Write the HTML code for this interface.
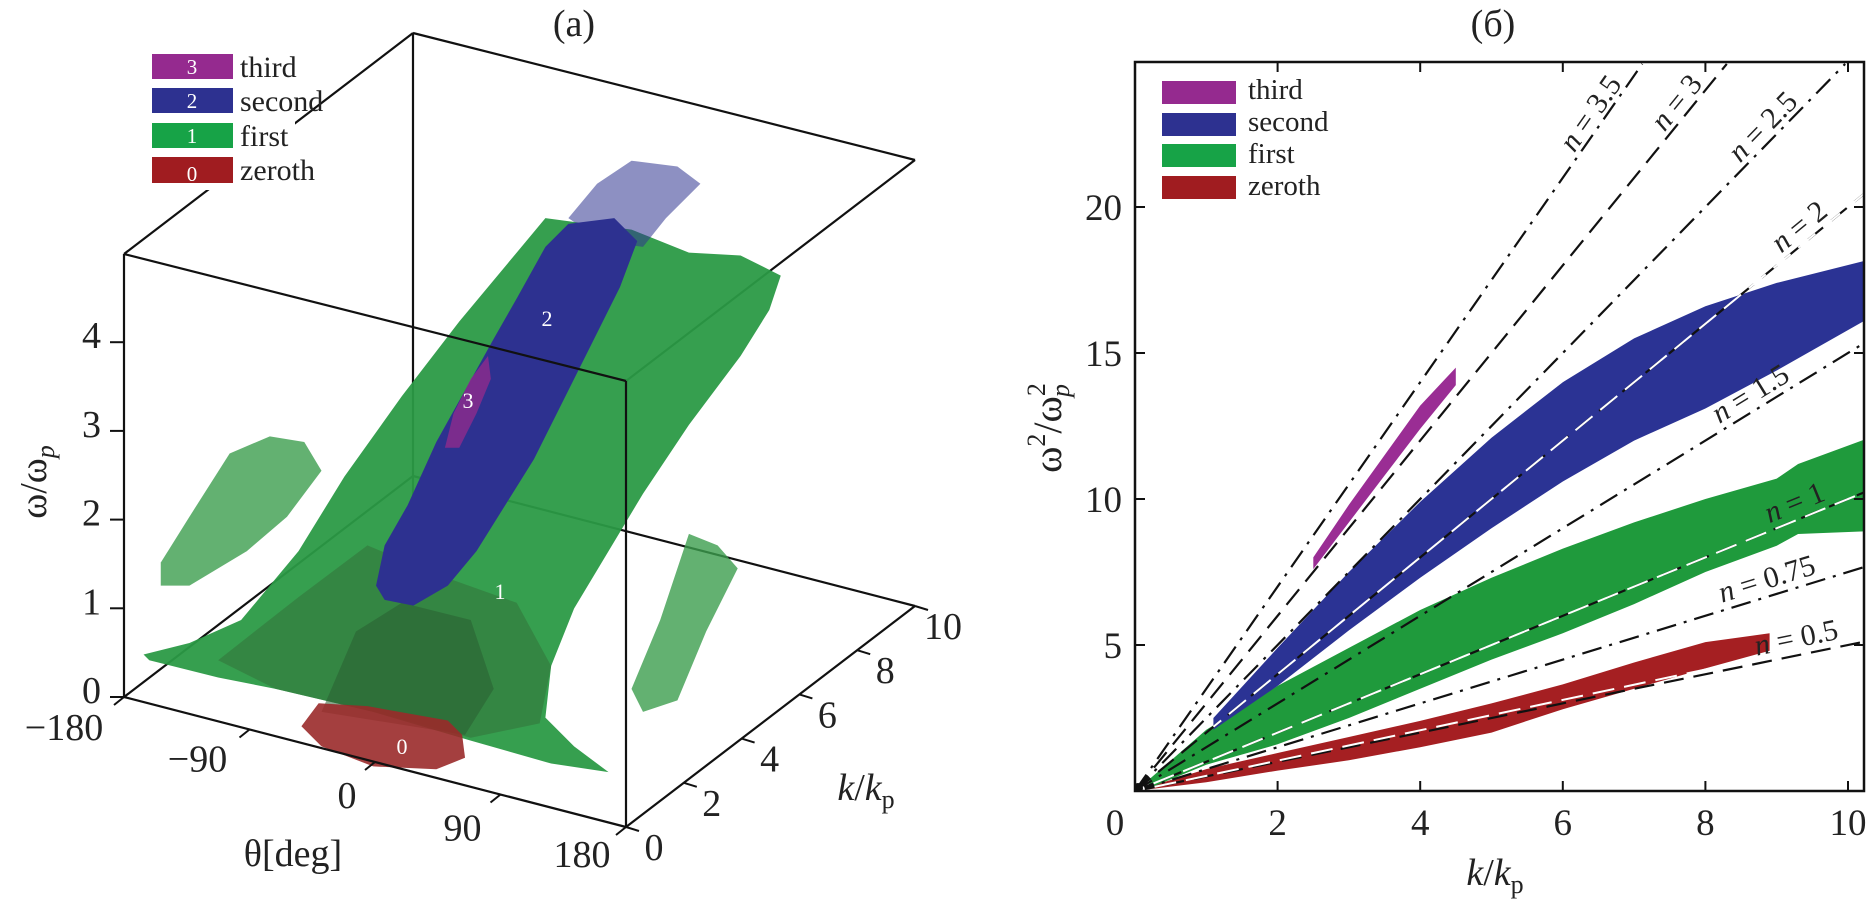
<!DOCTYPE html>
<html><head><meta charset="utf-8">
<style>
html,body{margin:0;padding:0;background:#fff;}
svg{display:block;font-family:"Liberation Serif",serif;}
</style></head>
<body>
<svg id="fig" width="1870" height="899" viewBox="0 0 1870 899" xmlns="http://www.w3.org/2000/svg">
<defs>
<clipPath id="plotClip"><rect x="1135" y="62" width="729" height="729"/></clipPath>
</defs>

<!-- ===================== LEFT PANEL (a) ===================== -->
<g id="panelA">
<text x="574" y="36" font-size="38" text-anchor="middle" fill="#222">(a)</text>

<g stroke="#111" stroke-width="2.2" fill="none">
<line x1="413" y1="33" x2="915" y2="160"/>
<line x1="413" y1="33" x2="413" y2="520"/>
<line x1="124" y1="254" x2="413" y2="33"/>
<line x1="626" y1="381" x2="915" y2="160"/>
<line x1="413" y1="476" x2="915" y2="606"/>
<line x1="124" y1="697" x2="413" y2="476"/>
</g>

<g transform="scale(0.5741)">
<polygon fill="#2b9a46" opacity="0.95" points="250,1140 330,1120 420,1080 520,960 600,830 700,690 800,560 900,440 950,380 1100,400 1200,440 1290,445 1360,480 1340,540 1290,620 1200,740 1120,860 1060,960 1000,1060 960,1160 950,1250 1000,1300 1060,1345 960,1330 820,1290 650,1240 480,1200 380,1180 260,1150"/>
<polygon fill="#33763c" opacity="0.6" points="380,1150 520,1040 640,950 760,1000 900,1050 960,1160 940,1260 820,1285 650,1240 480,1200"/>
<polygon fill="#2a5e31" opacity="0.55" points="560,1240 620,1100 700,1050 820,1080 860,1200 810,1280"/>
<polygon fill="#3c9d4e" opacity="0.8" points="280,980 330,900 400,790 470,760 530,770 560,820 500,900 430,960 330,1020 280,1020"/>
<polygon fill="#3c9d4e" opacity="0.8" points="1100,1200 1150,1080 1200,930 1250,950 1285,990 1230,1100 1180,1220 1120,1240"/>
<polygon fill="#2f348f" opacity="0.55" points="990,380 1040,320 1100,280 1180,290 1220,320 1160,380 1120,430 1050,420"/>
<polygon fill="#2d3190" points="655,1020 670,950 710,880 760,770 810,680 860,590 900,520 950,430 990,390 1070,380 1110,420 1080,500 1030,600 980,700 930,800 880,880 830,960 780,1020 720,1055 670,1045"/>
<polygon fill="#8e2c8c" opacity="0.8" points="775,780 790,720 820,660 850,620 855,660 830,720 800,780"/>
<polygon fill="#9a2a2a" opacity="0.9" points="525,1265 555,1225 640,1230 780,1255 805,1280 810,1320 760,1340 650,1335 560,1300"/>
</g>
<g fill="#fff" font-size="22" text-anchor="middle">
<text x="547" y="326">2</text>
<text x="468" y="408">3</text>
<text x="500" y="599">1</text>
<text x="402" y="754">0</text>
</g>

<g stroke="#111" stroke-width="2.2" fill="none">
<line x1="124" y1="254" x2="626" y2="381"/>
<line x1="124" y1="254" x2="124" y2="697"/>
<line x1="626" y1="381" x2="626" y2="827"/>
<line x1="124" y1="697" x2="626" y2="827"/>
<line x1="626" y1="827" x2="915" y2="606"/>
</g>
<g id="axesA"></g>

<g>
<rect x="145" y="48" width="150" height="142" fill="#fff"/>
<rect x="152" y="54" width="81" height="25" fill="#952a8f"/>
<rect x="152" y="88" width="81" height="25" fill="#2d3190"/>
<rect x="152" y="123" width="81" height="25" fill="#17a347"/>
<rect x="152" y="157" width="81" height="26" fill="#a01c20"/>
<g fill="#fff" font-size="21" text-anchor="middle">
<text x="192" y="74">3</text>
<text x="192" y="108">2</text>
<text x="192" y="143">1</text>
<text x="192" y="181">0</text>
</g>
<g fill="#222" font-size="30">
<text x="240" y="77">third</text>
<text x="240" y="111">second</text>
<text x="240" y="146">first</text>
<text x="240" y="180">zeroth</text>
</g>
</g>
</g>

<!-- ===================== RIGHT PANEL (б) ===================== -->
<g id="panelB">
<text x="1493" y="36" font-size="38" text-anchor="middle" fill="#222">(б)</text>
<g id="bandsB" clip-path="url(#plotClip)"></g>
<g id="linesB" clip-path="url(#plotClip)"></g>
<g id="axesB"></g>
<g>
<rect x="1162" y="81" width="74" height="23" fill="#952a8f"/>
<rect x="1162" y="113" width="74" height="23" fill="#2d3190"/>
<rect x="1162" y="144" width="74" height="23" fill="#17a347"/>
<rect x="1162" y="176" width="74" height="23" fill="#a01c20"/>
<g fill="#222" font-size="29">
<text x="1248" y="99">third</text>
<text x="1248" y="131">second</text>
<text x="1248" y="163">first</text>
<text x="1248" y="195">zeroth</text>
</g>
</g>
</g>
</svg>

<script>
// ---------- Panel (b) data ----------
const xTicks = [0, 2, 4, 6, 8, 10];
const yTicks = [5, 10, 15, 20];
const zerothK  = [0, 1, 2, 3, 4, 5, 6, 7, 8, 8.9];
const zerothHi = [0, 0.75, 1.3, 1.85, 2.4, 3.0, 3.65, 4.4, 5.1, 5.4];
const zerothLo = [0, 0.3, 0.7, 1.05, 1.5, 2.0, 2.8, 3.5, 4.2, 4.8];
const firstK  = [0.2, 1, 2, 3, 4, 5, 6, 7, 8, 9, 9.3, 10.3];
const firstHi = [0.4, 2.1, 3.6, 4.9, 6.2, 7.3, 8.3, 9.2, 10.0, 10.7, 11.2, 12.1];
const firstLo = [0.1, 0.9, 1.6, 2.5, 3.5, 4.5, 5.4, 6.4, 7.5, 8.4, 8.8, 8.9];
const secondK  = [1.1, 2, 3, 4, 5, 6, 7, 8, 9, 10.3];
const secondHi = [2.5, 4.9, 7.5, 9.9, 12.1, 14.0, 15.5, 16.6, 17.4, 18.2];
const secondLo = [2.1, 3.6, 5.5, 7.3, 9.0, 10.6, 12.0, 13.1, 14.4, 16.2];
const thirdK  = [2.5, 3, 3.5, 4, 4.5];
const thirdHi = [8.0, 9.8, 11.5, 13.2, 14.5];
const thirdLo = [7.6, 9.2, 10.8, 12.4, 13.9];
const lineN     = [0.5, 0.75, 1, 1.5, 2, 2.5, 3, 3.5];
const lineStyle = ["dash", "dashdot", "dash", "dashdot", "dash", "dashdot", "dash", "dashdot"];
const labelK    = [9.3, 8.9, 9.3, 8.7, 9.4, 8.9, 7.7, 6.5];
const fitN = [0.52, 1.0, 2.0];
const fitStart = [0, 0, 1.1];
const fitEnd = [9.0, 10.3, 10.3];

const X0 = 1135, XS = 71.3, Y0 = 791, YS = 29.2;
function sx(k) { return X0 + k * XS; }
function sy(v) { return Y0 - v * YS; }
const NS = "http://www.w3.org/2000/svg";
function mk(tag, attrs, parent) {
  const e = document.createElementNS(NS, tag);
  for (const a in attrs) e.setAttribute(a, attrs[a]);
  parent.appendChild(e);
  return e;
}

const bands = document.getElementById("bandsB");
function band(ks, hi, lo, color, name) {
  let pts = [];
  for (let i = 0; i < ks.length; i++) pts.push(sx(ks[i]).toFixed(1) + "," + sy(hi[i]).toFixed(1));
  for (let i = ks.length - 1; i >= 0; i--) pts.push(sx(ks[i]).toFixed(1) + "," + sy(lo[i]).toFixed(1));
  const p = mk("polygon", { points: pts.join(" "), fill: color }, bands);
  
  
}
band(zerothK, zerothHi, zerothLo, "#a51f22", "zeroth-band");
band(firstK, firstHi, firstLo, "#1f9a3c", "first-band");
band(secondK, secondHi, secondLo, "#2b3394", "second-band");
band(thirdK, thirdHi, thirdLo, "#9a2d94", "third-band");

const lines = document.getElementById("linesB");
const kMax = 10.3;
for (let i = 0; i < lineN.length; i++) {
  const n = lineN[i];
  const kEnd = Math.min(kMax, 24.9 / n);
  const l = mk("line", { x1: sx(0), y1: sy(0), x2: sx(kEnd), y2: sy(n * kEnd), stroke: "#111", "stroke-width": 2.2,
    "stroke-dasharray": lineStyle[i] === "dash" ? "20,10" : "20,8,3,8" }, lines);
  
  
  const lk = Math.min(labelK[i], 24.0 / n);
  const ang = -Math.atan(n * YS / XS) * 180 / Math.PI;
  const tx = sx(lk), ty = sy(n * lk) - 8;
  const t = mk("text", { x: tx, y: ty, "font-size": 30, fill: "#222", "text-anchor": "middle",
    transform: "rotate(" + ang.toFixed(1) + " " + tx.toFixed(1) + " " + ty.toFixed(1) + ")" }, lines);
  
  
  t.innerHTML = '<tspan font-style="italic">n</tspan> = ' + n;
}
for (let i = 0; i < fitN.length; i++) {
  const f = mk("line", { x1: sx(fitStart[i]), y1: sy(fitN[i] * fitStart[i]), x2: sx(fitEnd[i]), y2: sy(fitN[i] * fitEnd[i]),
    stroke: "#fff", "stroke-width": 2, "stroke-dasharray": "22,10", "stroke-dashoffset": 12 }, lines);
  
  
}
const om = mk("circle", { cx: sx(0) + 3, cy: sy(0) - 3, r: 5, fill: "#111" }, lines);



const axB = document.getElementById("axesB");
const fr = mk("rect", { x: 1135, y: 62, width: 729, height: 729, fill: "none", stroke: "#111", "stroke-width": 2.5 }, axB);


for (const k of xTicks) {
  if (k > 0) {
    mk("line", { x1: sx(k), y1: 791, x2: sx(k), y2: 781, stroke: "#111", "stroke-width": 2 }, axB);
    mk("line", { x1: sx(k), y1: 62, x2: sx(k), y2: 72, stroke: "#111", "stroke-width": 2 }, axB);
  }
  const t = mk("text", { x: k === 0 ? 1115 : sx(k), y: 835, "font-size": 37, fill: "#222", "text-anchor": "middle" }, axB);
  
  
  t.textContent = k;
}
for (const v of yTicks) {
  mk("line", { x1: 1135, y1: sy(v), x2: 1145, y2: sy(v), stroke: "#111", "stroke-width": 2 }, axB);
  mk("line", { x1: 1864, y1: sy(v), x2: 1854, y2: sy(v), stroke: "#111", "stroke-width": 2 }, axB);
  const t = mk("text", { x: 1122, y: sy(v) + 13, "font-size": 37, fill: "#222", "text-anchor": "end" }, axB);
  
  
  t.textContent = v;
}
const xl = mk("text", { x: 1495, y: 885, "font-size": 38, fill: "#222", "text-anchor": "middle" }, axB);


xl.innerHTML = '<tspan font-style="italic">k</tspan>/<tspan font-style="italic">k</tspan><tspan font-size="26" dy="8">p</tspan>';
const yl = mk("text", { x: 0, y: 0, "font-size": 40, fill: "#222", "text-anchor": "middle", transform: "translate(1061,428) rotate(-90)" }, axB);


yl.innerHTML = 'ω<tspan font-size="26" dy="-16">2</tspan><tspan dy="16">/ω</tspan><tspan font-size="26" dy="-16">2</tspan><tspan font-size="26" font-style="italic" dx="-14" dy="24">p</tspan>';

// ---------- Panel (a) axes ----------
const omegaTicks = [0, 1, 2, 3, 4];
const thetaTicks = [-180, -90, 0, 90, 180];
const kTicks3d = [0, 2, 4, 6, 8, 10];
const axA = document.getElementById("axesA");
function wy(w) { return 697 - w * 88.7; }
function thPt(th) { const t = (th + 180) / 360; return [124 + t * 502, 697 + t * 130]; }
function kPt(k) { return [626 + k * 28.9, 827 - k * 22.1]; }
for (const w of omegaTicks) {
  mk("line", { x1: 110, y1: wy(w), x2: 124, y2: wy(w), stroke: "#111", "stroke-width": 2 }, axA);
  const t = mk("text", { x: 101, y: wy(w) + 6, "font-size": 38, fill: "#222", "text-anchor": "end" }, axA);
  
  
  t.textContent = w;
}
const thLabelOff = [[-60, 43], [-52, 42], [-28, 46], [-38, 46], [-44, 40]];
thetaTicks.forEach((th, i) => {
  const p = thPt(th);
  mk("line", { x1: p[0], y1: p[1], x2: p[0] - 10, y2: p[1] + 8, stroke: "#111", "stroke-width": 2 }, axA);
  const t = mk("text", { x: p[0] + thLabelOff[i][0], y: p[1] + thLabelOff[i][1], "font-size": 38, fill: "#222", "text-anchor": "middle" }, axA);
  
  
  t.textContent = th < 0 ? "\u2212" + (-th) : th;
});
kTicks3d.forEach((k) => {
  const p = kPt(k);
  mk("line", { x1: p[0], y1: p[1], x2: p[0] + 13, y2: p[1] + 4, stroke: "#111", "stroke-width": 2 }, axA);
  const t = mk("text", { x: p[0] + 28, y: p[1] + 33, "font-size": 38, fill: "#222", "text-anchor": "middle" }, axA);
  
  
  t.textContent = k;
});
const thl = mk("text", { x: 293, y: 866, "font-size": 38, fill: "#222", "text-anchor": "middle" }, axA);


thl.textContent = "θ[deg]";
const kl = mk("text", { x: 866, y: 800, "font-size": 38, fill: "#222", "text-anchor": "middle" }, axA);


kl.innerHTML = '<tspan font-style="italic">k</tspan>/<tspan font-style="italic">k</tspan><tspan font-size="26" dy="8">p</tspan>';
const wl = mk("text", { x: 0, y: 0, "font-size": 38, fill: "#222", "text-anchor": "middle", transform: "translate(46,482) rotate(-90)" }, axA);


wl.innerHTML = 'ω/ω<tspan font-size="26" font-style="italic" dy="8">p</tspan>';
</script>
</body></html>
